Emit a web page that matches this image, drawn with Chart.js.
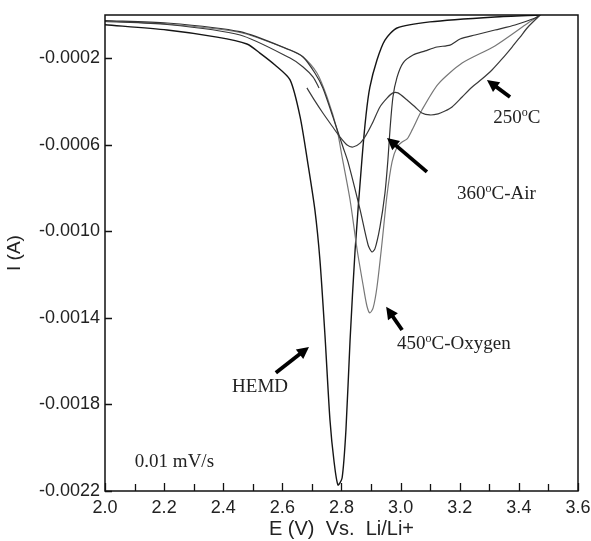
<!DOCTYPE html>
<html><head><meta charset="utf-8">
<script src="https://cdn.jsdelivr.net/npm/chart.js@4"></script>
<style>html,body{margin:0;padding:0;background:#fff;}#wrap{width:591px;height:541px;}</style>
</head><body><div id="wrap"><canvas id="c" width="591" height="541"></canvas></div>
<script>
// ---- data (E in V vs Li/Li+, I in A) ----
const hemdV = [2.000,2.210,2.379,2.480,2.524,2.575,2.626,2.660,2.687,2.710,2.727,2.744,2.761,2.775,2.788,2.802,2.815,2.829,2.846,2.869,2.883,2.896,2.920,2.947,2.988,3.099,3.319,3.472];
const hemdI = [-0.0000448,-0.0000693,-0.000102,-0.000134,-0.000176,-0.000231,-0.000300,-0.000471,-0.000693,-0.000901,-0.001132,-0.001479,-0.001872,-0.002066,-0.002172,-0.002140,-0.001918,-0.001502,-0.001086,-0.000670,-0.000462,-0.000333,-0.000208,-0.000116,-0.000060,-0.000032,-0.0000092,0];

const air360V = [2.000,2.210,2.457,2.626,2.670,2.710,2.737,2.771,2.805,2.822,2.863,2.890,2.903,2.913,2.930,2.947,2.957,2.964,2.974,2.988,3.008,3.042,3.083,3.123,3.167,3.201,3.252,3.319,3.387,3.455,3.472];
const air360I = [-0.0000254,-0.0000370,-0.0000772,-0.000162,-0.000194,-0.000268,-0.000337,-0.000471,-0.000610,-0.000679,-0.000901,-0.001063,-0.001095,-0.001081,-0.000980,-0.000823,-0.000670,-0.000531,-0.000379,-0.000287,-0.000222,-0.000185,-0.000166,-0.000148,-0.000139,-0.000111,-0.0000924,-0.0000693,-0.0000462,-0.0000139,0];

const oxy450V = [2.000,2.210,2.457,2.626,2.670,2.717,2.751,2.785,2.802,2.829,2.853,2.873,2.886,2.896,2.907,2.920,2.937,2.954,2.971,2.988,3.005,3.022,3.039,3.072,3.127,3.208,3.319,3.431,3.472];
const oxy450I = [-0.0000277,-0.0000416,-0.0000809,-0.000162,-0.000194,-0.000268,-0.000379,-0.000531,-0.000656,-0.000855,-0.001086,-0.001248,-0.001345,-0.001377,-0.001354,-0.001257,-0.001054,-0.000832,-0.000679,-0.000610,-0.000587,-0.000573,-0.000531,-0.000439,-0.000319,-0.000222,-0.000143,-0.0000370,0];

const c250V = [2.000,2.210,2.457,2.626,2.670,2.704,2.724,2.700,2.683,2.710,2.737,2.768,2.795,2.819,2.839,2.863,2.883,2.903,2.930,2.954,2.974,2.991,3.022,3.049,3.072,3.099,3.127,3.150,3.174,3.208,3.242,3.275,3.309,3.343,3.377,3.404,3.431,3.465,3.472];
const c250I = [-0.0000300,-0.0000439,-0.0000924,-0.000199,-0.000240,-0.000287,-0.000337,null,-0.000337,-0.000397,-0.000453,-0.000513,-0.000564,-0.000601,-0.000610,-0.000592,-0.000555,-0.000504,-0.000425,-0.000384,-0.000360,-0.000360,-0.000393,-0.000425,-0.000453,-0.000462,-0.000457,-0.000444,-0.000425,-0.000379,-0.000333,-0.000296,-0.000254,-0.000203,-0.000148,-0.000102,-0.0000555,-0.0000092,0];

const yTicks = [-0.0022,-0.0018,-0.0014,-0.0010,-0.0006,-0.0002];
const xTicks = [2.0,2.2,2.4,2.6,2.8,3.0,3.2,3.4,3.6];
const xMinorTicks = [2.1,2.3,2.5,2.7,2.9,3.1,3.3,3.5];

// annotations (in data units)
const notes = [
  {parts:[['250'],['o',1],['C']], x:3.313, y:-0.000499},
  {parts:[['360'],['o',1],['C-Air']], x:3.191, y:-0.000850},
  {parts:[['450'],['o',1],['C-Oxygen']], x:2.988, y:-0.001543},
  {parts:[['HEMD']], x:2.430, y:-0.001742},
  {parts:[['0.01 mV/s']], x:2.101, y:-0.002089}
];
const arrows = [
  {x1:3.370, y1:-0.000379, x2:3.292, y2:-0.000300},
  {x1:3.089, y1:-0.000725, x2:2.954, y2:-0.000568},
  {x1:3.005, y1:-0.001456, x2:2.951, y2:-0.001349},
  {x1:2.578, y1:-0.001654, x2:2.690, y2:-0.001534}
];

const pts = (V, I) => V.map((v, i) => ({x: v, y: I[i]}));

const decor = {
  id: 'decor',
  afterDatasetsDraw(chart) {
    const {ctx, chartArea: a, scales: {x, y}} = chart;
    ctx.save();
    ctx.strokeStyle = '#111';
    ctx.lineWidth = 1.5;
    ctx.strokeRect(a.left, a.top, a.right - a.left, a.bottom - a.top);
    ctx.lineWidth = 1.3;
    ctx.beginPath();
    yTicks.forEach(v => { const py = Math.round(y.getPixelForValue(v)) + 0.5; ctx.moveTo(a.left, py); ctx.lineTo(a.left + 7, py); });
    xTicks.forEach(v => { const px = Math.round(x.getPixelForValue(v)) + 0.5; ctx.moveTo(px, a.bottom); ctx.lineTo(px, a.bottom - 8); });
    xMinorTicks.forEach(v => { const px = Math.round(x.getPixelForValue(v)) + 0.5; ctx.moveTo(px, a.bottom); ctx.lineTo(px, a.bottom - 7); });
    ctx.stroke();

    // arrows
    ctx.fillStyle = '#000';
    ctx.strokeStyle = '#000';
    arrows.forEach(ar => {
      const x1 = x.getPixelForValue(ar.x1), y1 = y.getPixelForValue(ar.y1);
      const x2 = x.getPixelForValue(ar.x2), y2 = y.getPixelForValue(ar.y2);
      const ang = Math.atan2(y2 - y1, x2 - x1);
      const hl = 12, hw = 6;
      const bx = x2 - hl * Math.cos(ang), by = y2 - hl * Math.sin(ang);
      ctx.lineWidth = 3.8;
      ctx.beginPath(); ctx.moveTo(x1, y1); ctx.lineTo(bx + 2 * Math.cos(ang), by + 2 * Math.sin(ang)); ctx.stroke();
      ctx.beginPath();
      ctx.moveTo(x2, y2);
      ctx.lineTo(bx + hw * Math.sin(ang), by - hw * Math.cos(ang));
      ctx.lineTo(bx - hw * Math.sin(ang), by + hw * Math.cos(ang));
      ctx.closePath(); ctx.fill();
    });

    // text notes
    ctx.fillStyle = '#222';
    ctx.textBaseline = 'alphabetic';
    ctx.textAlign = 'left';
    notes.forEach(n => {
      let px = x.getPixelForValue(n.x);
      const py = y.getPixelForValue(n.y);
      n.parts.forEach(p => {
        if (p[1]) { ctx.font = '12px "Liberation Serif", serif'; ctx.fillText(p[0], px, py - 7); px += ctx.measureText(p[0]).width; }
        else { ctx.font = '19px "Liberation Serif", serif'; ctx.fillText(p[0], px, py); px += ctx.measureText(p[0]).width; }
      });
    });
    ctx.restore();
  }
};

new Chart(document.getElementById('c'), {
  type: 'scatter',
  data: {
    datasets: [
      {label: '250°C', data: pts(c250V, c250I), borderColor: '#3a3a3a', borderWidth: 1.2},
      {label: '360°C-Air', data: pts(air360V, air360I), borderColor: '#333', borderWidth: 1.2},
      {label: '450°C-Oxygen', data: pts(oxy450V, oxy450I), borderColor: '#777', borderWidth: 1.2},
      {label: 'HEMD', data: pts(hemdV, hemdI), borderColor: '#151515', borderWidth: 1.4}
    ].map(d => Object.assign(d, {showLine: true, pointRadius: 0, tension: 0.25, fill: false, spanGaps: false}))
  },
  options: {
    responsive: false,
    animation: false,
    layout: {padding: {top: 15, right: 13, left: 0, bottom: 0}},
    plugins: {legend: {display: false}, tooltip: {enabled: false}},
    scales: {
      x: {
        type: 'linear', min: 2.0, max: 3.6,
        afterBuildTicks: s => { s.ticks = xTicks.map(v => ({value: v})); },
        afterFit: s => { s.height = 50; s.paddingLeft = 0; s.paddingRight = 0; },
        grid: {display: false, drawTicks: false},
        border: {display: false},
        ticks: {callback: v => Number(v).toFixed(1), font: {family: '"Liberation Sans", Arial, sans-serif', size: 18}, color: '#222', padding: 6, maxRotation: 0, autoSkip: false},
        title: {display: true, text: 'E (V)  Vs.  Li/Li+', font: {family: '"Liberation Sans", Arial, sans-serif', size: 20}, color: '#222', padding: 0}
      },
      y: {
        type: 'linear', min: -0.0022, max: 0,
        afterBuildTicks: s => { s.ticks = yTicks.map(v => ({value: v})); },
        afterFit: s => { s.width = 105; s.paddingTop = 0; s.paddingBottom = 0; },
        grid: {display: false, drawTicks: false},
        border: {display: false},
        ticks: {callback: v => Number(v).toFixed(4), font: {family: '"Liberation Sans", Arial, sans-serif', size: 18}, color: '#222', padding: 5, autoSkip: false},
        title: {display: true, text: 'I (A)', font: {family: '"Liberation Sans", Arial, sans-serif', size: 19}, color: '#222', padding: {top: 3, bottom: 0}}
      }
    }
  },
  plugins: [decor]
});
</script>
</body></html>
